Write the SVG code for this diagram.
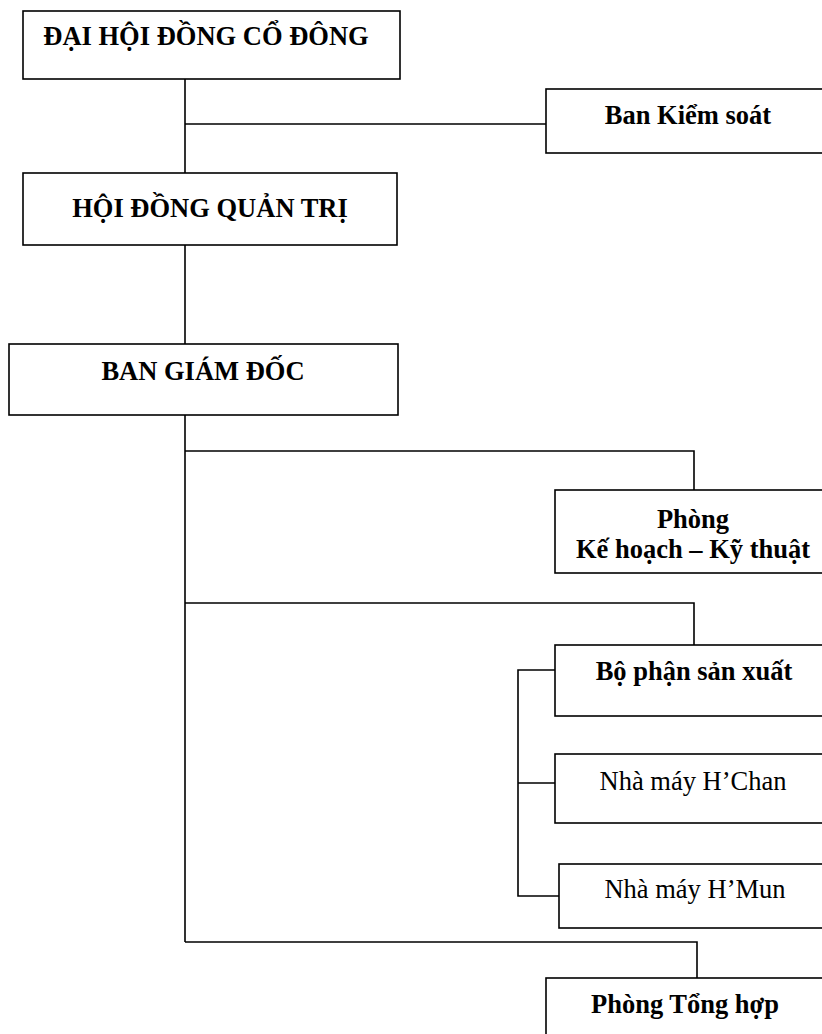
<svg xmlns="http://www.w3.org/2000/svg" width="822" height="1034" viewBox="0 0 822 1034">
<style>
.box{fill:#fff;stroke:#000;stroke-width:1.6}
.ln{fill:none;stroke:#000;stroke-width:1.6}
.t{font-family:"Liberation Serif","Times New Roman",serif;font-size:26.5px;text-anchor:middle;fill:#000}
.b{font-weight:bold}
</style>
<rect width="822" height="1034" fill="#fff"/>
<g id="connectors">
<path class="ln" d="M185,79 V173 M185,124 H546 M185,245 V344 M185,415 V942 M185,451 H694 V490 M185,603 H694 V645 M185,942 H697 V978"/>
<path class="ln" d="M555,670 H518 V896 H559 M518,783 H555"/>
</g>
<g id="n1"><rect class="box" x="23" y="11" width="377" height="68"/><text class="t b" x="206" y="45">ĐẠI HỘI ĐỒNG CỔ ĐÔNG</text></g>
<g id="n2"><rect class="box" x="546" y="89" width="290" height="64"/><text class="t b" x="688" y="124">Ban Kiểm soát</text></g>
<g id="n3"><rect class="box" x="23" y="173" width="374" height="72"/><text class="t b" x="210" y="217">HỘI ĐỒNG QUẢN TRỊ</text></g>
<g id="n4"><rect class="box" x="9" y="344" width="389" height="71"/><text class="t b" x="203" y="380">BAN GIÁM ĐỐC</text></g>
<g id="n5"><rect class="box" x="555" y="490" width="280" height="83"/><text class="t b" x="693" y="528">Phòng</text><text class="t b" x="693" y="558">Kế hoạch – Kỹ thuật</text></g>
<g id="n6"><rect class="box" x="555" y="645" width="280" height="71"/><text class="t b" x="694" y="680">Bộ phận sản xuất</text></g>
<g id="n7"><rect class="box" x="555" y="754" width="280" height="69"/><text class="t" x="693" y="790">Nhà máy H’Chan</text></g>
<g id="n8"><rect class="box" x="559" y="864" width="276" height="64"/><text class="t" x="695" y="898">Nhà máy H’Mun</text></g>
<g id="n9"><rect class="box" x="546" y="978" width="290" height="80"/><text class="t b" x="685" y="1013">Phòng Tổng hợp</text></g>
</svg>
